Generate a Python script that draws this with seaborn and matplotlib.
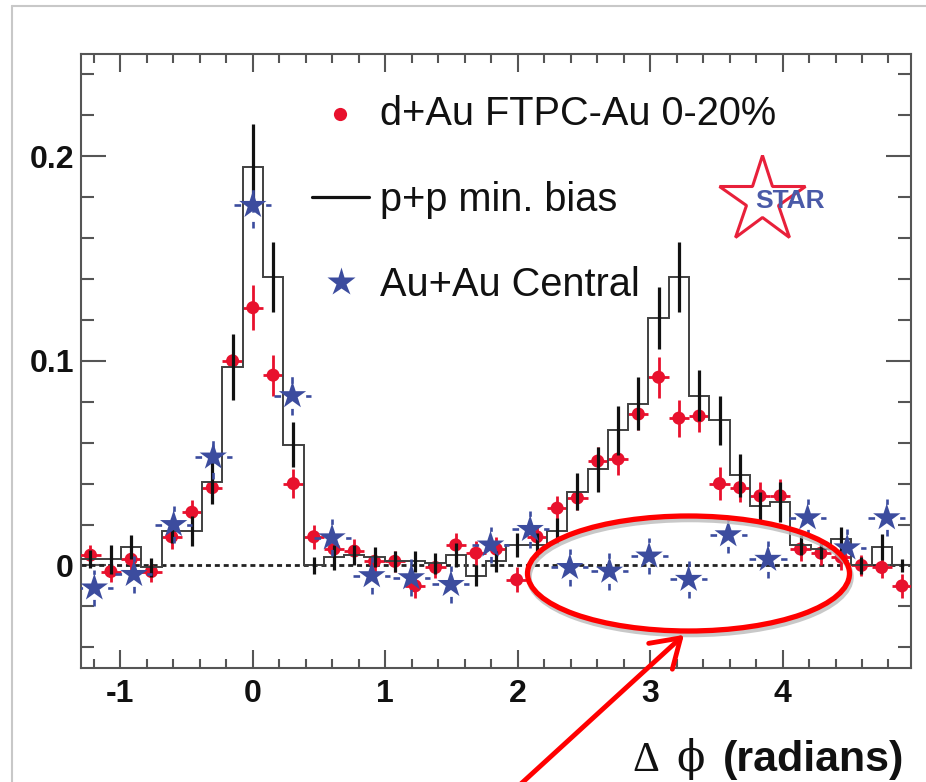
import numpy as np
import matplotlib
matplotlib.use("Agg")
import matplotlib.pyplot as plt
import seaborn as sns
from matplotlib.patches import Ellipse, FancyArrowPatch
from matplotlib.lines import Line2D
from matplotlib.ticker import MultipleLocator

# ---------------- data ----------------
# d+Au FTPC-Au 0-20% and p+p share the same binning
dau_x = [-1.226, -1.072, -0.919, -0.766, -0.613, -0.460, -0.306, -0.153, 0.000,
         0.153, 0.306, 0.460, 0.613, 0.766, 0.919, 1.072, 1.226, 1.379, 1.532,
         1.685, 1.838, 1.992, 2.145, 2.298, 2.451, 2.604, 2.758, 2.911, 3.064,
         3.217, 3.370, 3.524, 3.677, 3.830, 3.983, 4.136, 4.290, 4.443, 4.596,
         4.749, 4.902]
dau_y = [0.005, -0.003, 0.003, -0.003, 0.014, 0.026, 0.038, 0.100, 0.126,
         0.093, 0.040, 0.014, 0.008, 0.007, 0.002, 0.002, -0.010, -0.001, 0.010,
         0.006, 0.008, -0.007, 0.014, 0.028, 0.033, 0.051, 0.052, 0.074, 0.092,
         0.072, 0.073, 0.040, 0.038, 0.034, 0.034, 0.008, 0.006, 0.004, 0.000,
         -0.001, -0.010]
dau_err = [0.005, 0.005, 0.005, 0.005, 0.006, 0.006, 0.006, 0.008, 0.011,
           0.010, 0.007, 0.006, 0.006, 0.006, 0.005, 0.005, 0.006, 0.005, 0.006,
           0.006, 0.006, 0.006, 0.006, 0.006, 0.006, 0.007, 0.008, 0.008, 0.010,
           0.009, 0.008, 0.008, 0.007, 0.007, 0.008, 0.006, 0.006, 0.006, 0.005,
           0.005, 0.006]
pp_y = [0.003, 0.003, 0.009, -0.001, 0.017, 0.017, 0.041, 0.097, 0.195,
        0.141, 0.059, 0.000, 0.004, 0.005, 0.004, 0.002, 0.002, 0.001, 0.005,
        -0.005, 0.002, 0.010, 0.010, 0.017, 0.036, 0.047, 0.066, 0.079, 0.121,
        0.141, 0.083, 0.071, 0.044, 0.029, 0.031, 0.010, 0.008, 0.013, 0.000,
        0.009, 0.000]
pp_err = [0.0045, 0.007, 0.006, 0.0045, 0.006, 0.0073, 0.011, 0.016, 0.021,
          0.017, 0.011, 0.004, 0.006, 0.005, 0.005, 0.005, 0.005, 0.005, 0.006,
          0.005, 0.005, 0.006, 0.006, 0.006, 0.009, 0.011, 0.012, 0.013, 0.015,
          0.017, 0.0126, 0.012, 0.0106, 0.007, 0.010, 0.005, 0.005, 0.006, 0.004,
          0.0065, 0.003]
dau_halfbin = 0.0766

# Au+Au central (coarser binning)
auau_x = [-1.197, -0.898, -0.598, -0.299, 0.000, 0.299, 0.598, 0.898, 1.197,
          1.496, 1.795, 2.094, 2.394, 2.693, 2.992, 3.291, 3.590, 3.890, 4.189,
          4.488, 4.787]
auau_y = [-0.011, -0.0044, 0.020, 0.053, 0.176, 0.083, 0.0135, -0.005, -0.006,
          -0.0093, 0.010, 0.0176, -0.001, -0.0028, 0.0046, -0.0068, 0.015, 0.003,
          0.0233, 0.0086, 0.0233]
auau_err = [0.009, 0.009, 0.009, 0.011, 0.011, 0.0095, 0.009, 0.009, 0.009,
            0.009, 0.009, 0.009, 0.009, 0.009, 0.009, 0.009, 0.009, 0.009, 0.009,
            0.009, 0.009]
auau_halfbin = 0.14

x_ticks = [-1, 0, 1, 2, 3, 4]
x_ticklabels = ["-1", "0", "1", "2", "3", "4"]
y_ticks = [0, 0.1, 0.2]
y_ticklabels = ["0", "0.1", "0.2"]
legend_labels = ["d+Au FTPC-Au 0-20%", "p+p min. bias", "Au+Au Central"]

RED = "#e8112d"
BLUE = "#3c4c9e"
FRAME = "#555555"

# ---------------- figure ----------------
sns.set_style("ticks")
plt.rcParams["font.family"] = ["Liberation Sans", "DejaVu Sans"]
plt.rcParams["axes.unicode_minus"] = False

W, H = 926, 782
fig = plt.figure(figsize=(W / 100, H / 100), dpi=100)
fig.patch.set_facecolor("white")
ax = fig.add_axes([80.7 / W, 1 - 667.7 / H, (911 - 80.7) / W, (667.7 - 54) / H])
ax.set_facecolor("white")

# d+Au (red) error bars and points
ax.errorbar(dau_x, dau_y, yerr=dau_err, xerr=dau_halfbin, fmt="none",
            ecolor=RED, elinewidth=2.0, capsize=0, zorder=3)
sns.scatterplot(x=dau_x, y=dau_y, ax=ax, color=RED, marker="o", s=88,
                edgecolor="none", linewidth=0, zorder=4, legend=False)

# p+p histogram + error bars
edges = np.concatenate([np.array(dau_x) - dau_halfbin, [dau_x[-1] + dau_halfbin]])
ax.stairs(pp_y, edges, baseline=None, color="#404040", lw=1.4, zorder=5)
ax.errorbar(dau_x, pp_y, yerr=pp_err, fmt="none", ecolor="#111111",
            elinewidth=2.3, capsize=0, zorder=6)

# zero line
ax.axhline(0, color="#222222", lw=2.0, ls=(0, (1.8, 1.4)), zorder=2)

# Au+Au (blue stars)
eb = ax.errorbar(auau_x, auau_y, yerr=auau_err, xerr=auau_halfbin, fmt="none",
                 ecolor=BLUE, elinewidth=1.9, capsize=0, zorder=7)
for lc in eb[2]:
    lc.set_linestyle((0, (2.5, 3.5)))
sns.scatterplot(x=auau_x, y=auau_y, ax=ax, color=BLUE, marker="*", s=430,
                edgecolor="none", linewidth=0, zorder=8, legend=False)

# axes styling
ax.set_xlim(-1.3, 4.97)
ax.set_ylim(-0.05, 0.25)
ax.set_xticks(x_ticks)
ax.set_xticklabels(x_ticklabels)
ax.set_yticks(y_ticks)
ax.set_yticklabels(y_ticklabels)
ax.xaxis.set_minor_locator(MultipleLocator(0.2))
ax.yaxis.set_minor_locator(MultipleLocator(0.02))
for lab in ax.get_xticklabels() + ax.get_yticklabels():
    lab.set_fontweight("bold")
    lab.set_fontsize(23)
    lab.set_color("#111111")
ax.tick_params(which="both", direction="in", top=True, right=True,
               color=FRAME, width=1.5)
ax.tick_params(axis="x", which="major", length=13, pad=8)
ax.tick_params(axis="x", which="minor", length=6.5)
ax.tick_params(axis="y", which="major", length=18, pad=5)
ax.tick_params(axis="y", which="minor", length=9.5)
for sp in ax.spines.values():
    sp.set_visible(True)
    sp.set_color(FRAME)
    sp.set_linewidth(1.5)
ax.set_xlabel("")
ax.set_ylabel("")


def fx(px):
    return px / W


def fy(py):
    return 1 - py / H


# legend (manual, figure-pixel placement)
fig.add_artist(Line2D([fx(340)], [fy(114)], marker="o", markersize=9.5,
                      color=RED, mec="none", transform=fig.transFigure))
fig.add_artist(Line2D([fx(312), fx(369)], [fy(197), fy(197)], color="#111111",
                      lw=2.3, transform=fig.transFigure))
fig.add_artist(Line2D([fx(341)], [fy(282)], marker="*", markersize=21,
                      color=BLUE, mec="none", transform=fig.transFigure))
for lbl, base in zip(legend_labels, [125, 211, 296]):
    fig.text(fx(380), fy(base), lbl, fontsize=28.6, color="#111111",
             ha="left", va="baseline")

# STAR logo
fig.add_artist(Line2D([fx(762)], [fy(200)], marker="*", markersize=65,
                      mfc="none", mec="#e8203a", mew=2.2,
                      transform=fig.transFigure))
fig.text(fx(790), fy(201), "STAR", fontsize=19, fontweight="bold",
         color="#4a5aa8", ha="center", va="center")

# axis title
fig.text(fx(904), fy(771), "(radians)", fontsize=31, fontweight="bold",
         color="#111111", ha="right", va="baseline")
fig.text(fx(632), fy(771), "Δ", fontsize=30, color="#111111",
         family=["Liberation Serif", "DejaVu Serif"], ha="left", va="baseline")
fig.text(fx(676), fy(771), "ϕ", fontsize=30, color="#111111",
         family=["DejaVu Serif", "Liberation Serif"], ha="left", va="baseline")

# annotation ellipse + arrow
fig.add_artist(Ellipse((fx(690), fy(577)), 322 / W, 115 / H, fill=False,
                       ec="#bbbbbb", lw=4, transform=fig.transFigure, alpha=0.8))
fig.add_artist(Ellipse((fx(688.5), fy(573.5)), 322 / W, 115 / H, fill=False,
                       ec="#ff0000", lw=3.8, transform=fig.transFigure))
fig.add_artist(FancyArrowPatch((fx(512), fy(792)), (fx(686), fy(633)),
                               transform=fig.transFigure,
                               arrowstyle="->,head_length=0.7,head_width=0.45",
                               mutation_scale=28, color="#ff0000", lw=3.5))

# light screenshot border
fig.add_artist(Line2D([fx(12), 1], [fy(6), fy(6)], color="#c8c8c8", lw=1.5,
                      transform=fig.transFigure))
fig.add_artist(Line2D([fx(12), fx(12)], [0, fy(6)], color="#c8c8c8", lw=1.5,
                      transform=fig.transFigure))

fig.savefig("out.png", dpi=100)
